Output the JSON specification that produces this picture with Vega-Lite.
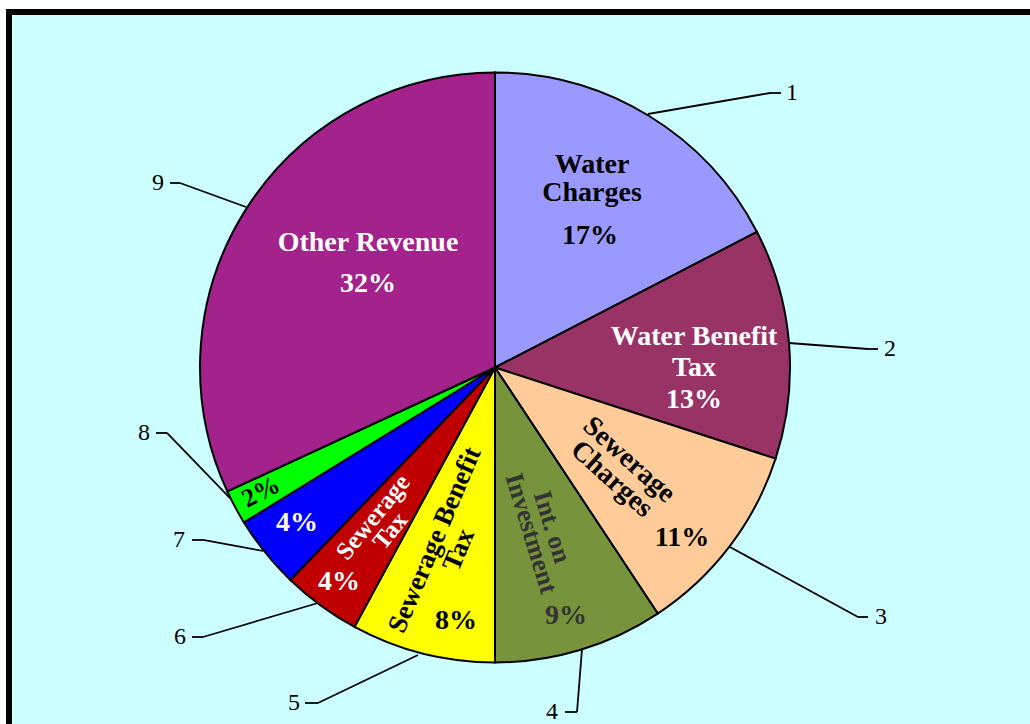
{
  "$schema": "https://vega.github.io/schema/vega-lite/v6.json",
  "width": 1031,
  "height": 722,
  "autosize": {"type": "none"},
  "padding": {"left": 9, "top": 12, "right": -10, "bottom": -10},
  "background": "white",
  "config": {"view": {"stroke": "black", "strokeWidth": 6, "fill": "#CCFFFF"}, "axis": {"disable": true}},
  "datasets": {
    "slices": [
      {"id": 1, "slice": "Water Charges", "value": 17.4},
      {"id": 2, "slice": "Water Benefit Tax", "value": 12.6},
      {"id": 3, "slice": "Sewerage Charges", "value": 10.7},
      {"id": 4, "slice": "Int. on Investment", "value": 9.3},
      {"id": 5, "slice": "Sewerage Benefit Tax", "value": 7.9},
      {"id": 6, "slice": "Sewerage Tax", "value": 4.3},
      {"id": 7, "slice": "Slice 7", "value": 4.0},
      {"id": 8, "slice": "Slice 8", "value": 1.9},
      {"id": 9, "slice": "Other Revenue", "value": 31.9}
    ],
    "labels": [
      {"text": "Water\nCharges", "x": 32.9, "y": 68.5},
      {"text": "17%", "x": 32.2, "y": 44.6},
      {"text": "Water Benefit\nTax", "x": 67.46, "y": 10.34},
      {"text": "13%", "x": 67.46, "y": -11.02},
      {"text": "Sewerage\nCharges", "x": 45.42, "y": -31.36},
      {"text": "11%", "x": 63.39, "y": -57.8},
      {"text": "Int. on\nInvestment", "x": 19.32, "y": -54.07},
      {"text": "9%", "x": 24.07, "y": -84.24},
      {"text": "Sewerage Benefit\nTax", "x": -20.34, "y": -58.47},
      {"text": "8%", "x": -13.22, "y": -85.93},
      {"text": "Sewerage\nTax", "x": -41.36, "y": -50.68},
      {"text": "4%", "x": -52.88, "y": -72.71},
      {"text": "4%", "x": -67.12, "y": -52.71},
      {"text": "2%", "x": -79.32, "y": -42.2},
      {"text": "Other Revenue", "x": -43.05, "y": 42.37},
      {"text": "32%", "x": -43.05, "y": 28.31}
    ],
    "callouts": [
      {"n": "1", "x0": 51.86, "y0": 85.93, "x1": 93.22, "y1": 93.05, "x2": 96.95, "lx": 100.68},
      {"n": "2", "x0": 99.66, "y0": 8.31, "x1": 126.44, "y1": 6.27, "x2": 129.83, "lx": 133.9},
      {"n": "3", "x0": 79.66, "y0": -60.85, "x1": 123.05, "y1": -84.58, "x2": 126.44, "lx": 130.85},
      {"n": "4", "x0": 29.49, "y0": -95.42, "x1": 27.8, "y1": -116.78, "x2": 23.73, "lx": 19.32},
      {"n": "5", "x0": -26.1, "y0": -97.46, "x1": -60.0, "y1": -113.73, "x2": -64.41, "lx": -68.14},
      {"n": "6", "x0": -60.0, "y0": -79.83, "x1": -98.98, "y1": -91.36, "x2": -102.71, "lx": -106.78},
      {"n": "7", "x0": -78.64, "y0": -62.2, "x1": -98.98, "y1": -58.47, "x2": -102.71, "lx": -107.12},
      {"n": "8", "x0": -89.83, "y0": -44.24, "x1": -111.19, "y1": -22.2, "x2": -114.92, "lx": -118.98},
      {"n": "9", "x0": -84.41, "y0": 54.41, "x1": -106.78, "y1": 62.54, "x2": -110.17, "lx": -114.24}
    ]
  },
  "layer": [
    {
      "data": {"name": "slices"},
      "mark": {"type": "arc", "outerRadius": 295, "stroke": "black", "strokeWidth": 2},
      "encoding": {
        "theta": {"field": "value", "type": "quantitative", "stack": true},
        "order": {"field": "id", "type": "quantitative"},
        "fill": {
          "field": "slice", "type": "nominal", "legend": null,
          "scale": {
            "domain": ["Water Charges", "Water Benefit Tax", "Sewerage Charges", "Int. on Investment", "Sewerage Benefit Tax", "Sewerage Tax", "Slice 7", "Slice 8", "Other Revenue"],
            "range": ["#9999FF", "#993366", "#FFCC99", "#77933C", "#FFFF00", "#C00000", "#0000FF", "#00FF00", "#A3228C"]
          }
        },
        "x": {"datum": 0, "type": "quantitative", "scale": {"domain": [-164.75, 184.75], "nice": false, "zero": false}, "axis": null},
        "y": {"datum": 0, "type": "quantitative", "scale": {"domain": [-124.24, 120.51], "nice": false, "zero": false}, "axis": null}
      }
    },
    {
      "data": {"name": "callouts"},
      "mark": {"type": "rule", "stroke": "black", "strokeWidth": 1.8},
      "encoding": {
        "x": {"field": "x0", "type": "quantitative", "axis": null},
        "y": {"field": "y0", "type": "quantitative", "axis": null},
        "x2": {"field": "x1"},
        "y2": {"field": "y1"}
      }
    },
    {
      "data": {"name": "callouts"},
      "mark": {"type": "rule", "stroke": "black", "strokeWidth": 1.8},
      "encoding": {
        "x": {"field": "x1", "type": "quantitative", "axis": null},
        "x2": {"field": "x2"},
        "y": {"field": "y1", "type": "quantitative", "axis": null}
      }
    },
    {
      "data": {"name": "callouts"},
      "mark": {"type": "text", "font": "Liberation Serif", "fontSize": 24, "color": "black", "align": "center", "baseline": "middle"},
      "encoding": {
        "x": {"field": "lx", "type": "quantitative", "axis": null},
        "y": {"field": "y1", "type": "quantitative", "axis": null},
        "text": {"field": "n"}
      }
    },
    {
      "data": {"name": "labels"},
      "transform": [{"filter": {"field": "text", "oneOf": ["Water\nCharges", "17%", "11%", "8%"]}}],
      "mark": {"type": "text", "font": "Liberation Serif", "fontWeight": "bold", "fontSize": 28, "color": "black", "lineBreak": "\n", "lineHeight": 28, "align": "center", "baseline": "middle"},
      "encoding": {"x": {"field": "x", "type": "quantitative", "axis": null}, "y": {"field": "y", "type": "quantitative", "axis": null}, "text": {"field": "text"}}
    },
    {
      "data": {"name": "labels"},
      "transform": [{"filter": {"field": "text", "oneOf": ["Water Benefit\nTax", "13%", "Other Revenue", "32%", "4%"]}}],
      "mark": {"type": "text", "font": "Liberation Serif", "fontWeight": "bold", "fontSize": 28, "color": "white", "lineBreak": "\n", "lineHeight": 31, "align": "center", "baseline": "middle"},
      "encoding": {"x": {"field": "x", "type": "quantitative", "axis": null}, "y": {"field": "y", "type": "quantitative", "axis": null}, "text": {"field": "text"}}
    },
    {
      "data": {"name": "labels"},
      "transform": [{"filter": {"field": "text", "equal": "Sewerage\nCharges"}}],
      "mark": {"type": "text", "font": "Liberation Serif", "fontWeight": "bold", "fontSize": 28, "color": "black", "angle": 42, "lineBreak": "\n", "lineHeight": 26, "align": "center", "baseline": "middle"},
      "encoding": {"x": {"field": "x", "type": "quantitative", "axis": null}, "y": {"field": "y", "type": "quantitative", "axis": null}, "text": {"field": "text"}}
    },
    {
      "data": {"name": "labels"},
      "transform": [{"filter": {"field": "text", "equal": "Int. on\nInvestment"}}],
      "mark": {"type": "text", "font": "Liberation Serif", "fontWeight": "bold", "fontSize": 26, "color": "#333333", "angle": 73, "lineBreak": "\n", "lineHeight": 22, "align": "center", "baseline": "middle"},
      "encoding": {"x": {"field": "x", "type": "quantitative", "axis": null}, "y": {"field": "y", "type": "quantitative", "axis": null}, "text": {"field": "text"}}
    },
    {
      "data": {"name": "labels"},
      "transform": [{"filter": {"field": "text", "equal": "9%"}}],
      "mark": {"type": "text", "font": "Liberation Serif", "fontWeight": "bold", "fontSize": 28, "color": "#333333", "align": "center", "baseline": "middle"},
      "encoding": {"x": {"field": "x", "type": "quantitative", "axis": null}, "y": {"field": "y", "type": "quantitative", "axis": null}, "text": {"field": "text"}}
    },
    {
      "data": {"name": "labels"},
      "transform": [{"filter": {"field": "text", "equal": "Sewerage Benefit\nTax"}}],
      "mark": {"type": "text", "font": "Liberation Serif", "fontWeight": "bold", "fontSize": 27, "color": "black", "angle": -67, "lineBreak": "\n", "lineHeight": 26, "align": "center", "baseline": "middle"},
      "encoding": {"x": {"field": "x", "type": "quantitative", "axis": null}, "y": {"field": "y", "type": "quantitative", "axis": null}, "text": {"field": "text"}}
    },
    {
      "data": {"name": "labels"},
      "transform": [{"filter": {"field": "text", "equal": "Sewerage\nTax"}}],
      "mark": {"type": "text", "font": "Liberation Serif", "fontWeight": "bold", "fontSize": 25, "color": "white", "angle": -51, "lineBreak": "\n", "lineHeight": 22, "align": "center", "baseline": "middle"},
      "encoding": {"x": {"field": "x", "type": "quantitative", "axis": null}, "y": {"field": "y", "type": "quantitative", "axis": null}, "text": {"field": "text"}}
    },
    {
      "data": {"name": "labels"},
      "transform": [{"filter": {"field": "text", "equal": "2%"}}],
      "mark": {"type": "text", "font": "Liberation Serif", "fontWeight": "bold", "fontSize": 26, "color": "black", "angle": -27, "align": "center", "baseline": "middle"},
      "encoding": {"x": {"field": "x", "type": "quantitative", "axis": null}, "y": {"field": "y", "type": "quantitative", "axis": null}, "text": {"field": "text"}}
    }
  ]
}
